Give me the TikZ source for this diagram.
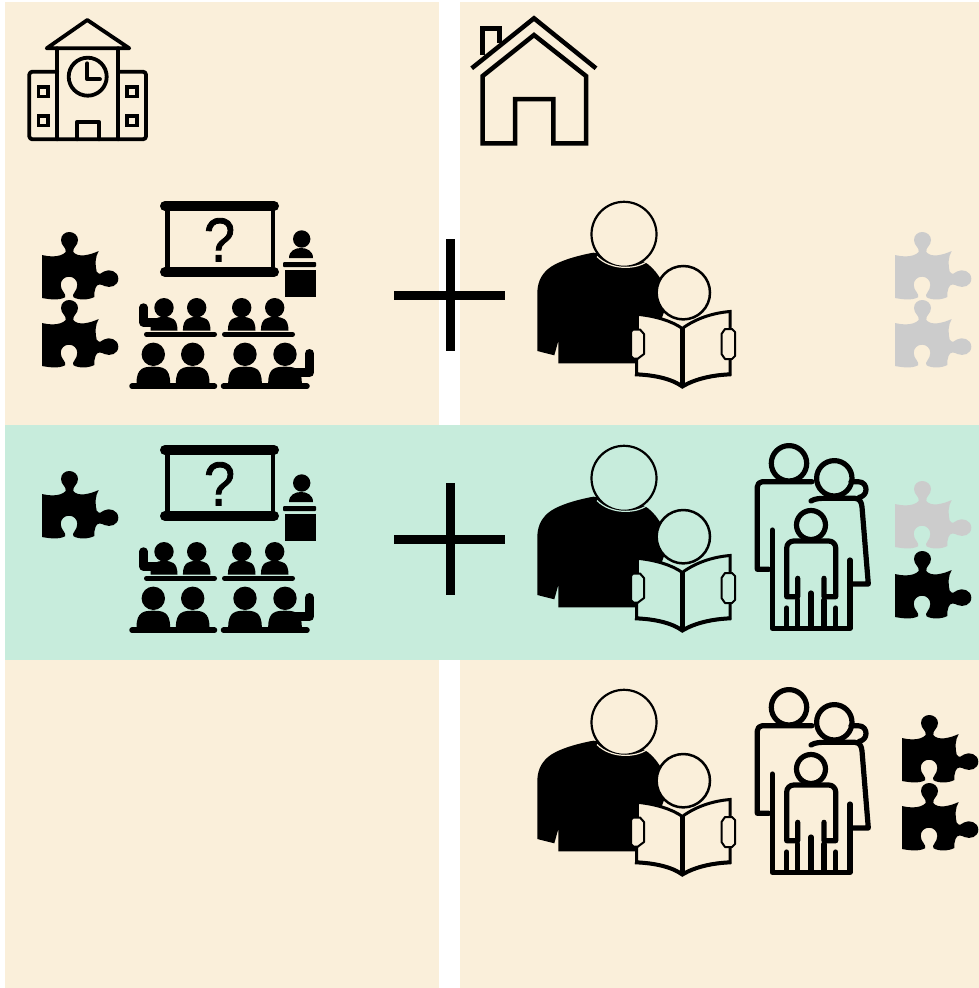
\documentclass[tikz,border=0pt]{standalone}
\usepackage{fontspec}
\setmainfont{Liberation Sans}
\newfontfamily\qmfont[RawFeature={embolden=1.4}]{Liberation Sans}
\definecolor{cream}{HTML}{FAEFDA}
\definecolor{mint}{HTML}{C7ECDC}
\definecolor{puzgray}{HTML}{CCCCCC}
\tikzset{
  iconline/.style={line width=#1,line join=round,line cap=round,draw=black},
  iconline/.default=3.8pt,
  houseline/.style={line width=4.5pt,line join=miter,line cap=butt,draw=black},
  famline/.style={line width=5.2pt,line join=round,line cap=round,draw=black},
}
% puzzle piece: colour, x, y
\newcommand{\puzzle}[3]{%
\fill[#1,shift={(#2,#3)}] (0,23) .. controls (6,24.5) and (18,26) .. (23.7,20)
 .. controls (24.5,15) and (19,14) .. (19,8)
 .. controls (19,3) and (23,0) .. (27.3,0)
 .. controls (32,0) and (36,3.5) .. (36,8)
 .. controls (36,14) and (30.5,15) .. (31.3,20)
 .. controls (36,26) and (48,23) .. (56.7,19)
 .. controls (53,25) and (53,33) .. (54.7,39.7)
 .. controls (57,43.5) and (60,41) .. (62,39.5)
 .. controls (67,36.5) and (76.3,39) .. (76.3,46.7)
 .. controls (76.3,54) and (68,56.5) .. (62.5,54)
 .. controls (59,52) and (55,51.5) .. (53.5,56)
 .. controls (52.5,59) and (52,62) .. (52.3,65)
 .. controls (47,68) and (36,68.5) .. (31.3,65)
 .. controls (29.5,62) and (35.3,59) .. (35.3,53)
 .. controls (35.3,48) and (31.5,44.7) .. (27,44.7)
 .. controls (22.5,44.7) and (18.7,48) .. (18.7,53)
 .. controls (18.7,59) and (25,62) .. (23,65.3)
 .. controls (17,68.5) and (8,67.5) .. (0,66) -- cycle;}
% student: head x, head y, head r, half width, body top, body bottom
\newcommand{\student}[6]{%
\fill (#1,#2) circle (#3);
\fill ({#1-#4},#6) .. controls ({#1-#4},{#5+1}) and ({#1-0.55*#4},#5) .. ({#1},#5)
 .. controls ({#1+0.55*#4},#5) and ({#1+#4},{#5+1}) .. ({#1+#4},#6) -- cycle;}
% classroom, vertical offset
\newcommand{\classroom}[1]{%
\begin{scope}[yshift={-(#1)*1pt}]
 \draw[line width=4.6pt] (167.2,206) -- (167.2,272) (272.8,206) -- (272.8,272);
 \draw[line width=10pt,line cap=round] (165,206) -- (274,206) (165,272) -- (274,272);
 \node[anchor=base,inner sep=0pt,font=\fontsize{62}{62}\selectfont\qmfont,xscale=0.9] (qm#1) at (219.5,261.5) {?};
 \fill (301.7,239) circle (8.7);
 \fill (289,258) .. controls (289,251) and (295,248) .. (301,248) .. controls (307,248) and (313,251) .. (313,258) -- cycle;
 \fill[rounded corners=1pt] (283,262) rectangle (316.2,267);
 \fill (285,270) rectangle (316,297);
 \student{164}{307.7}{9.7}{13.5}{317}{330.7}
 \student{196.7}{307.7}{9.7}{13.8}{317}{330.7}
 \student{241.7}{307.7}{9.7}{13.8}{317}{330.7}
 \student{274.7}{307.7}{9.7}{13.8}{317}{330.7}
 \draw[line width=8.5pt,line cap=round,line join=round] (143.5,307.5) -- (143.5,322.5) -- (158,322.5);
 \draw[line width=5pt,line cap=round] (146.5,334.2) -- (214.5,334.2) (224.5,334.2) -- (292.5,334.2);
 \student{153.3}{354.3}{11.7}{16.8}{366.7}{383}
 \student{192.7}{354.3}{11.7}{16.8}{366.7}{383}
 \student{245}{354.3}{11.7}{16.8}{366.7}{383}
 \student{285}{354.3}{11.7}{16.8}{366.7}{383}
 \draw[line width=9pt,line cap=round,line join=round] (309.5,353.5) -- (309.5,372.5) -- (292,372.5);
 \draw[line width=5.5pt,line cap=round] (132,386.2) -- (214.5,386.2) (223.5,386.2) -- (307,386.2);
\end{scope}}
% adult reading with child: background colour, vertical offset from row 2
\newcommand{\reader}[2]{%
\begin{scope}[yshift={-(#2)*1pt}]
 \fill (593.3,496.7) .. controls (575,500) and (556,506) .. (548,513)
  .. controls (540,520) and (537.3,528) .. (537.3,538)
  -- (537.3,595) -- (554.3,599.3) -- (558.3,585) -- (558.3,607.3) -- (645,607.3)
  -- (670,540) .. controls (660,520) and (652,508) .. (640,504) -- cycle;
 \draw[line width=2.2pt,fill=#1] (624,478.3) circle (32.5);
 \draw[draw=#1,line width=1.2pt] (597,500.5) .. controls (610,514) and (635,514) .. (647,505.5);
 \draw[fill=#1,line width=3pt,line join=miter] (637.5,558.3) .. controls (655,560) and (672,565) .. (682.3,572.5)
   .. controls (695,563) and (712,557) .. (730,555.5) -- (730,618.3)
   .. controls (712,619) and (695,623) .. (682.3,630.5)
   .. controls (672,623) and (655,619) .. (636.5,618.3) -- cycle;
 \draw[line width=4pt] (635,618.3) .. controls (655,619) and (672,623) .. (682.3,630.5)
   .. controls (695,623) and (712,619) .. (731,618.3);
 \draw[line width=5.5pt] (682.3,572) -- (682.3,630);
 \draw[fill=#1,line width=2pt,line join=round] (633,573.5) -- (640,573.5) -- (644,578) -- (644,598) -- (638,602.5) -- (633.5,602.5) -- (631,600) -- (631,576) -- cycle;
 \draw[fill=#1,line width=2pt,line join=round] (725,573) -- (732,573) -- (735,576) -- (735,600) -- (732,603) -- (725,603) -- (721.5,598) -- (721.5,578) -- cycle;
 \draw[line width=2.5pt,fill=#1] (683.3,536.7) circle (26.7);
\end{scope}}
% family, vertical offset from row 2
\newcommand{\family}[1]{%
\begin{scope}[yshift={-(#1)*1pt}]
 \draw[famline] (789,463.3) circle (17.7);
 \draw[famline] (834.3,478.3) circle (17.7);
 \draw[famline,rounded corners=5pt] (769,569.3) [sharp corners] -- (757.3,569.3) [rounded corners=5pt] -- (757.3,481.7) -- (812,481.7);
 \draw[famline] (772.3,530) -- (772.3,628.3) -- (850,628.3) -- (850,560);
 \draw[famline] (811,501) .. controls (815,498.5) and (820,498.3) .. (826,498.3) -- (855,498.3)
   .. controls (860,499) and (861.5,502) .. (862,507) -- (868.3,584) -- (851.7,584);
 \draw[famline] (851,481.7) -- (858,481.7) .. controls (864,481.7) and (866,486) .. (866,489.5)
   .. controls (866,494) and (863,496.5) .. (859,497.5);
 \draw[famline] (811,525) circle (14.5);
 \draw[famline] (797.7,578.3) -- (797.7,596.7) -- (786.7,596.7) [rounded corners=7pt] -- (786.7,541) -- (835.7,541) [sharp corners] -- (835.7,596.7) -- (824,596.7) -- (824,578.3);
 \draw[famline] (786.7,628) -- (786.7,608) (797.7,628) -- (797.7,600) (811,628) -- (811,593) (824,628) -- (824,600) (835.7,628) -- (835.7,608);
\end{scope}}
\newcommand{\plussign}[1]{%
 \draw[line width=9pt] (394,#1) -- (505,#1) (450,{#1-56}) -- (450,{#1+56});}
\begin{document}
\begin{tikzpicture}[x=1pt,y=-1pt]
\useasboundingbox (0,0) rectangle (979,988);
\fill[white] (0,0) rectangle (979,988);
\fill[cream] (5,2) rectangle (439,988);
\fill[cream] (460,2) rectangle (979,988);
\fill[mint] (5,425) rectangle (979,660);
% school
\draw[iconline] (87.3,20) -- (46.7,48.3) -- (129.3,48.3) -- cycle;
\draw[iconline] (57.3,48.3) -- (57.3,139.3) (118.3,48.3) -- (118.3,139.3);
\draw[iconline,rounded corners=3pt] (57.3,71.7) -- (29.3,71.7) -- (29.3,139.3) -- (146,139.3) -- (146,71.7) -- (118.3,71.7);
\draw[iconline] (87.7,76.7) circle (19);
\draw[iconline] (87.3,63.3) -- (87.3,79.3) -- (100,79.3);
\draw[iconline] (77.3,139.3) -- (77.3,121.7) -- (99,121.7) -- (99,139.3);
\foreach \wx/\wy in {43.3/91.7,43.3/120.7,132/91.7,132/120.7}
  \draw[iconline,line join=miter] ({\wx-4.8},{\wy-4.8}) rectangle ({\wx+4.8},{\wy+4.8});
% house
\draw[houseline] (471.7,68.3) -- (534,18.3) -- (596,68.3);
\draw[houseline] (482.7,76) -- (534,35) -- (586,76) -- (586,143.3) -- (553.3,143.3) -- (553.3,99) -- (515,99) -- (515,143.3) -- (482.7,143.3) -- cycle;
\draw[houseline] (482.7,55) -- (482.7,28.3) -- (499.3,28.3) -- (499.3,43.3);
% row 1
\puzzle{black}{42}{232}
\puzzle{black}{42}{300}
\classroom{0}
\plussign{295}
\reader{cream}{-244}
\puzzle{puzgray}{895}{232}
\puzzle{puzgray}{895}{300}
% row 2
\puzzle{black}{42}{471}
\classroom{244}
\plussign{539}
\reader{mint}{0}
\family{0}
\puzzle{puzgray}{895}{481}
\puzzle{black}{895}{551}
% row 3
\reader{cream}{244}
\family{244}
\puzzle{black}{902}{715}
\puzzle{black}{902}{783}
\end{tikzpicture}
\end{document}
